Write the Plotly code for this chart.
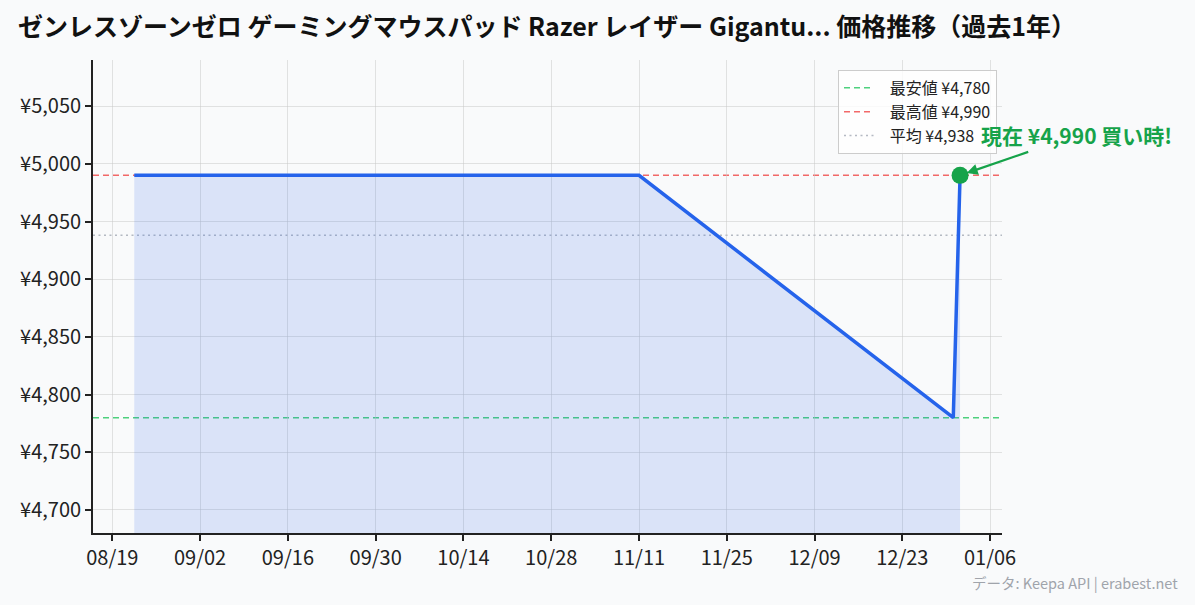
import plotly.graph_objects as go

# ---- data ----
dates = ["2025-08-22 12:00", "2025-11-11 00:00", "2025-12-31 03:00", "2026-01-01 05:00"]
prices = [4990, 4990, 4780, 4990]
min_price = 4780
max_price = 4990
avg_price = 4938
current_price = 4990
current_date = "2026-01-01 05:00"
x_range = ["2025-08-15 22:00", "2026-01-07 21:30"]
y_range = [4680, 5090]
tick0 = "2025-08-19"
title_text = "ゼンレスゾーンゼロ ゲーミングマウスパッド Razer レイザー Gigantu... 価格推移（過去1年）"
labels = {"min": "最安値 ¥4,780", "max": "最高値 ¥4,990", "avg": "平均 ¥4,938"}
annot_text = "現在 ¥4,990 買い時!"
footer = "データ: Keepa API | erabest.net"

FONT = "Noto Sans CJK JP"
BG = "#f9fafb"
PAD = "\u00a0\u00a0\u00a0"

fig = go.Figure()

fig.add_trace(go.Scatter(
    x=dates, y=prices, mode="lines",
    line=dict(color="#2563eb", width=3.5),
    fill="tozeroy", fillcolor="rgba(37,99,235,0.15)",
    showlegend=False, hoverinfo="skip",
))

fig.add_trace(go.Scatter(
    x=[current_date], y=[current_price], mode="markers",
    marker=dict(color="#16a34a", size=17),
    showlegend=False,
))

fig.add_hline(y=min_price, line=dict(color="rgba(34,197,94,0.8)", width=1.5, dash="6px,4px"),
              showlegend=True, name=PAD + labels["min"], layer="below")
fig.add_hline(y=max_price, line=dict(color="rgba(239,68,68,0.8)", width=1.5, dash="6px,4px"),
              showlegend=True, name=PAD + labels["max"], layer="below")
fig.add_hline(y=avg_price, line=dict(color="rgba(156,163,175,0.75)", width=1.5, dash="2px,3.5px"),
              showlegend=True, name=PAD + labels["avg"], layer="below")

fig.add_annotation(
    x=current_date, y=current_price, xref="x", yref="y",
    text=annot_text, showarrow=True,
    ax=116, ay=-40, arrowhead=2, arrowsize=1, arrowwidth=2.2,
    arrowcolor="#16a34a", standoff=7,
    font=dict(family=FONT, size=21, color="#16a34a", weight="bold"),
)

fig.add_annotation(
    x=(1180 - 93) / 909, y=(533 - 582) / 473, xref="paper", yref="paper",
    text=footer, showarrow=False,
    xanchor="right", yanchor="middle",
    font=dict(family=FONT, size=14.5, color="#a0a4ab"),
)

fig.update_layout(
    width=1195, height=605,
    margin=dict(l=93, r=193, t=60, b=72),
    paper_bgcolor=BG, plot_bgcolor=BG,
    font=dict(family=FONT, size=20, color="#222222"),
    title=dict(text=title_text, x=18 / 1195, xref="container", xanchor="left",
               y=1 - 27 / 605, yref="container", yanchor="middle",
               font=dict(family=FONT, size=25, color="#111111", weight="bold")),
    legend=dict(x=0.9945, y=0.979, xanchor="right", yanchor="top",
                bgcolor="rgba(255,255,255,0.8)", bordercolor="#cccccc", borderwidth=1,
                font=dict(family=FONT, size=16, color="#222222"),
                itemwidth=30),
    showlegend=True,
)

fig.update_xaxes(
    type="date", range=x_range, tick0=tick0, dtick=14 * 24 * 3600 * 1000,
    tickformat="%m/%d", showgrid=True, gridcolor="rgba(200,200,200,0.5)", gridwidth=1,
    showline=True, linecolor="#222222", linewidth=1.8,
    ticks="outside", ticklen=6, tickwidth=1.5, tickcolor="#222222",
    zeroline=False, mirror=False,
)
fig.update_yaxes(
    range=y_range, tick0=4700, dtick=50, tickprefix="¥", tickformat=",d",
    showgrid=True, gridcolor="rgba(200,200,200,0.5)", gridwidth=1,
    showline=True, linecolor="#222222", linewidth=1.8,
    ticks="outside", ticklen=6, tickwidth=1.5, tickcolor="#222222",
    zeroline=False, mirror=False,
)

fig.write_html(
    "out.html",
    config={"displayModeBar": False},
    post_script="document.body.style.margin='0';document.body.style.background='" + BG + "';",
)
